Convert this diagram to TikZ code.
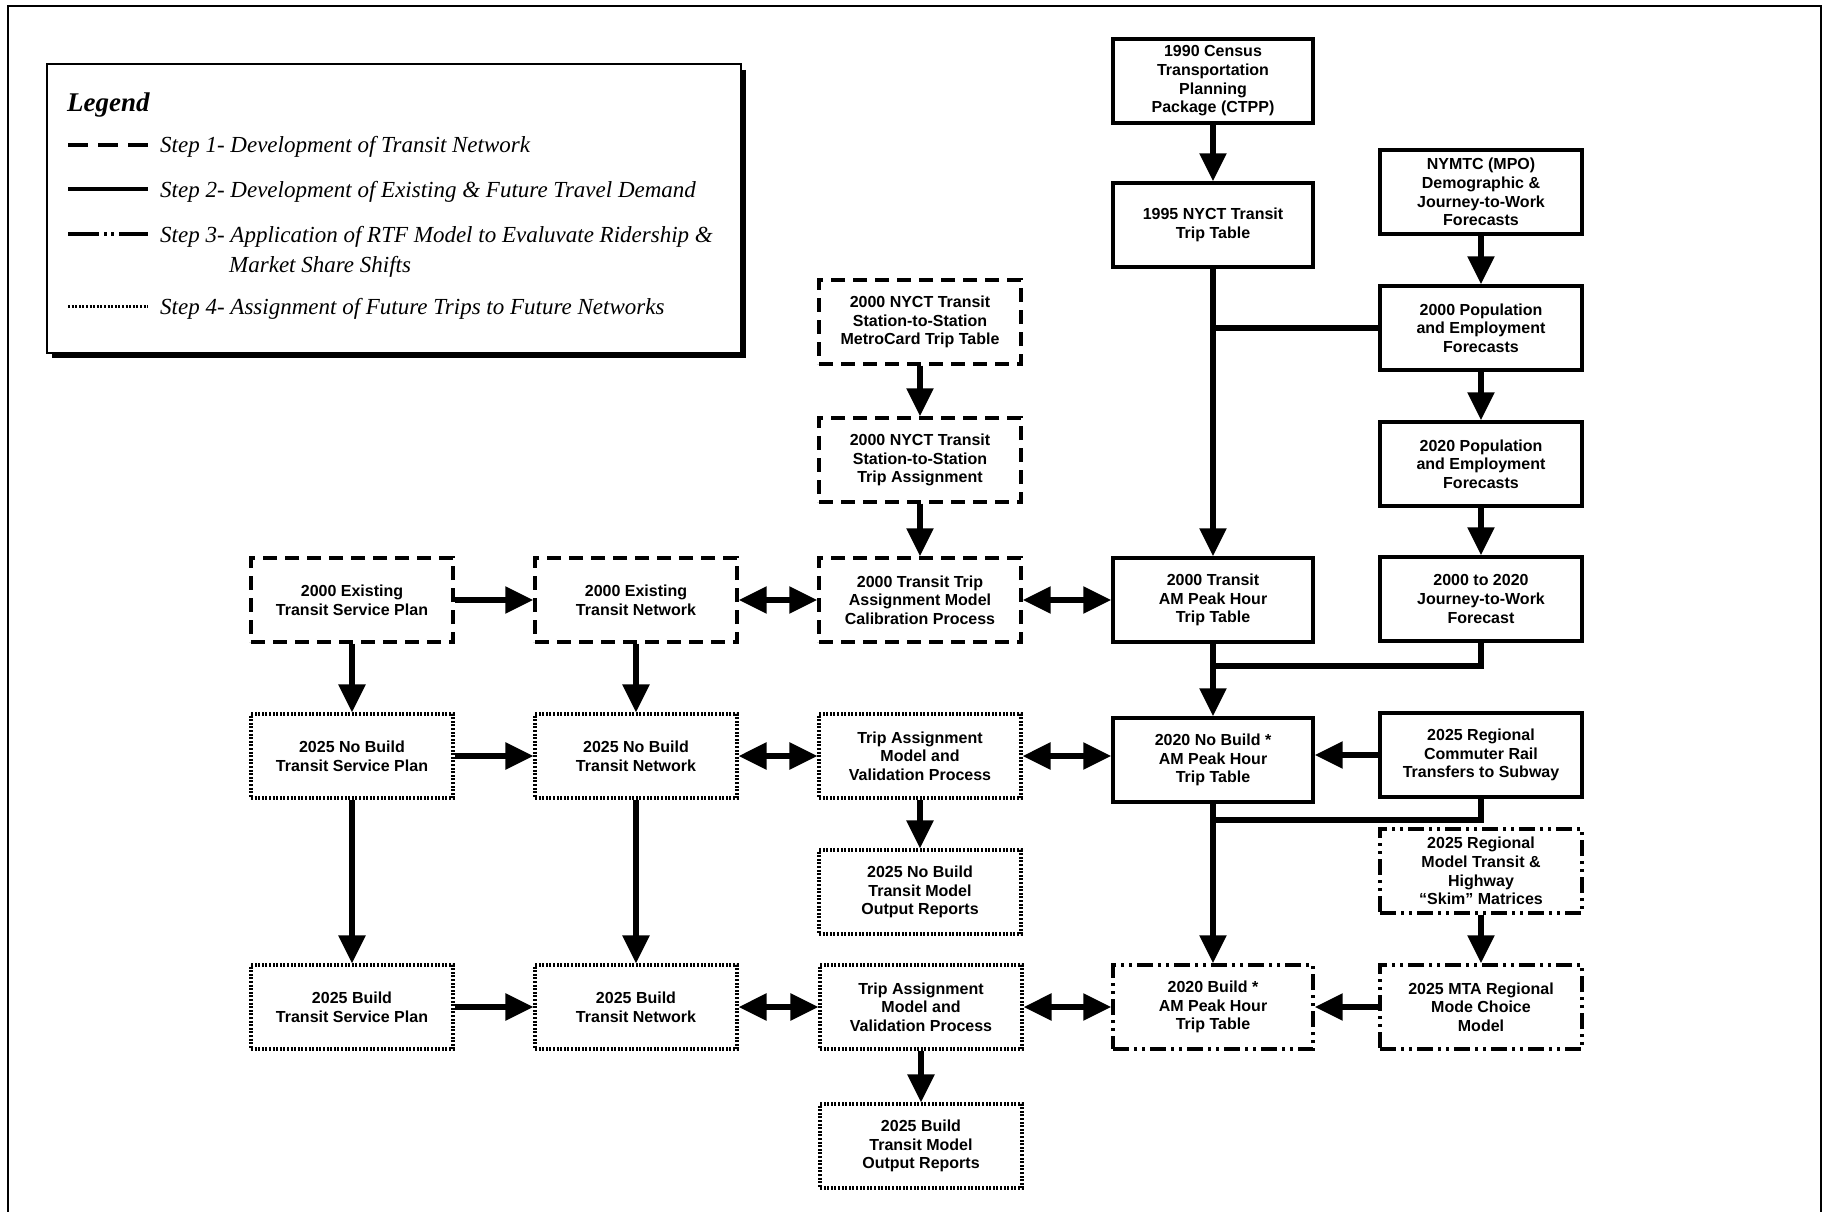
\documentclass[tikz,border=0pt]{standalone}
\usepackage{fontspec}
\setmainfont{Liberation Serif}
\newfontfamily\boxfont{Liberation Sans}
\usetikzlibrary{arrows.meta}
\tikzset{
  base/.style={draw, line width=3.4pt, minimum width=202pt, minimum height=84pt,
    align=center, inner sep=2pt,
    font=\boxfont\bfseries\fontsize{16}{18.7}\selectfont},
  solidbox/.style={base},
  dashbox/.style={base, dash pattern=on 14pt off 8pt},
  dotbox/.style={base, line width=3.2pt, dash pattern=on 2pt off 1.6pt},
  ddbox/.style={base, dash pattern=on 16pt off 5pt on 3pt off 5pt on 3pt off 5pt},
  arr/.style={line width=5.5pt, -{Triangle[length=28pt,width=26pt]}},
  darr/.style={line width=5.5pt, {Triangle[length=28pt,width=26pt]}-{Triangle[length=28pt,width=26pt]}},
  ln/.style={line width=5.5pt, line join=miter},
  legtext/.style={font=\itshape\fontsize{23}{27}\selectfont, inner sep=0pt, anchor=base west},
  legline/.style={line width=3.2pt},
}
\begin{document}
\begin{tikzpicture}[x=1pt, y=-1pt]
\useasboundingbox (0,0) rectangle (1832,1212);
% outer frame
\draw[line width=2pt] (8,1212) -- (8,6) -- (1821,6) -- (1821,1212);

% legend
\draw[line width=2pt, fill=white] (47,64) rectangle (741,353);
\draw[line width=4.5pt] (744,70) -- (744,356) -- (52,356);
\node[font=\bfseries\itshape\fontsize{27}{30}\selectfont, inner sep=0pt, anchor=base west] (legtitle) at (67,112) {Legend};
\draw[legline, dash pattern=on 20pt off 10pt] (68,145) -- (148,145);
\node[legtext] (leg1) at (160,153) {Step 1- Development of Transit Network};
\draw[legline] (68,189) -- (148,189);
\node[legtext] (leg2) at (160,197) {Step 2- Development of Existing \& Future Travel Demand};
\draw[legline, dash pattern=on 31pt off 5pt on 3pt off 4pt on 3pt off 5pt on 31pt] (68,234) -- (148,234);
\node[legtext] (leg3) at (160,242) {Step 3- Application of RTF Model to Evaluvate Ridership \&};
\node[legtext] (leg3b) at (229,272) {Market Share Shifts};
\draw[legline, line width=3pt, dash pattern=on 2pt off 1.6pt] (68,306) -- (148,306);
\node[legtext] (leg4) at (160,314) {Step 4- Assignment of Future Trips to Future Networks};

% column D / E upper
\node[solidbox, minimum width=200pt] (ctpp) at (1213,81) {1990 Census\\Transportation\\Planning\\Package (CTPP)};
\node[solidbox, minimum width=200pt] (nyct95) at (1213,225) {1995 NYCT Transit\\Trip Table};
\node[solidbox] (nymtc) at (1481,192) {NYMTC (MPO)\\Demographic \&\\Journey-to-Work\\Forecasts};
\node[solidbox] (pop00) at (1481,328) {2000 Population\\and Employment\\Forecasts};
\node[solidbox] (pop20) at (1481,464) {2020 Population\\and Employment\\Forecasts};
\node[solidbox] (jtw) at (1481,599) {2000 to 2020\\Journey-to-Work\\Forecast};

% column C upper
\node[dashbox] (metro) at (920,322) {2000 NYCT Transit\\Station-to-Station\\MetroCard Trip Table};
\node[dashbox] (assign00) at (920,460) {2000 NYCT Transit\\Station-to-Station\\Trip Assignment};

% row 2000
\node[dashbox] (tsp00) at (352,600) {2000 Existing\\Transit Service Plan};
\node[dashbox] (tn00) at (636,600) {2000 Existing\\Transit Network};
\node[dashbox] (calib) at (920,600) {2000 Transit Trip\\Assignment Model\\Calibration Process};
\node[solidbox, minimum width=200pt] (am00) at (1213,600) {2000 Transit\\AM Peak Hour\\Trip Table};

% row No Build
\node[dotbox] (tspNB) at (352,756) {2025 No Build\\Transit Service Plan};
\node[dotbox] (tnNB) at (636,756) {2025 No Build\\Transit Network};
\node[dotbox] (taNB) at (920,756) {Trip Assignment\\Model and\\Validation Process};
\node[solidbox, minimum width=200pt] (amNB) at (1213,760) {2020 No Build *\\AM Peak Hour\\Trip Table};
\node[solidbox] (crail) at (1481,755) {2025 Regional\\Commuter Rail\\Transfers to Subway};
\node[ddbox] (skim) at (1481,871) {2025 Regional\\Model Transit \&\\Highway\\“Skim” Matrices};
\node[dotbox] (outNB) at (920,892) {2025 No Build\\Transit Model\\Output Reports};

% row Build
\node[dotbox] (tspB) at (352,1007) {2025 Build\\Transit Service Plan};
\node[dotbox] (tnB) at (636,1007) {2025 Build\\Transit Network};
\node[dotbox] (taB) at (921,1007) {Trip Assignment\\Model and\\Validation Process};
\node[ddbox, minimum width=200pt] (amB) at (1213,1007) {2020 Build *\\AM Peak Hour\\Trip Table};
\node[ddbox] (mta) at (1481,1007) {2025 MTA Regional\\Mode Choice\\Model};
\node[dotbox] (outB) at (921,1146) {2025 Build\\Transit Model\\Output Reports};

% junction coordinates
\coordinate (j0) at (1213,328);
\coordinate (j1) at (1213,666);
\coordinate (j2) at (1213,820);

% connectors, column D/E
\draw[arr] (ctpp) -- (nyct95);
\draw[arr] (nyct95) -- (am00);
\draw[ln] (pop00.west) -- (j0);
\draw[arr] (nymtc) -- (pop00);
\draw[arr] (pop00) -- (pop20);
\draw[arr] (pop20) -- (jtw);
\draw[arr] (am00) -- (amNB);
\draw[ln] (jtw.south) |- (j1);
\draw[arr] (crail.west) -- (crail.west -| amNB.east);
\draw[ln] (crail.south) |- (j2);
\draw[arr] (amNB) -- (amB);
\draw[arr] (skim) -- (mta);
\draw[arr] (mta) -- (amB);

% column C
\draw[arr] (metro) -- (assign00);
\draw[arr] (assign00) -- (calib);
\draw[arr] (taNB) -- (outNB);
\draw[arr] (taB) -- (outB);

% row 2000
\draw[arr] (tsp00) -- (tn00);
\draw[darr] (tn00) -- (calib);
\draw[darr] (calib) -- (am00);
\draw[arr] (tsp00) -- (tspNB);
\draw[arr] (tn00) -- (tnNB);

% row No Build
\draw[arr] (tspNB) -- (tnNB);
\draw[darr] (tnNB) -- (taNB);
\draw[darr] (taNB.east) -- (taNB.east -| amNB.west);
\draw[arr] (tspNB) -- (tspB);
\draw[arr] (tnNB) -- (tnB);

% row Build
\draw[arr] (tspB) -- (tnB);
\draw[darr] (tnB) -- (taB);
\draw[darr] (taB) -- (amB);
\end{tikzpicture}
\end{document}
